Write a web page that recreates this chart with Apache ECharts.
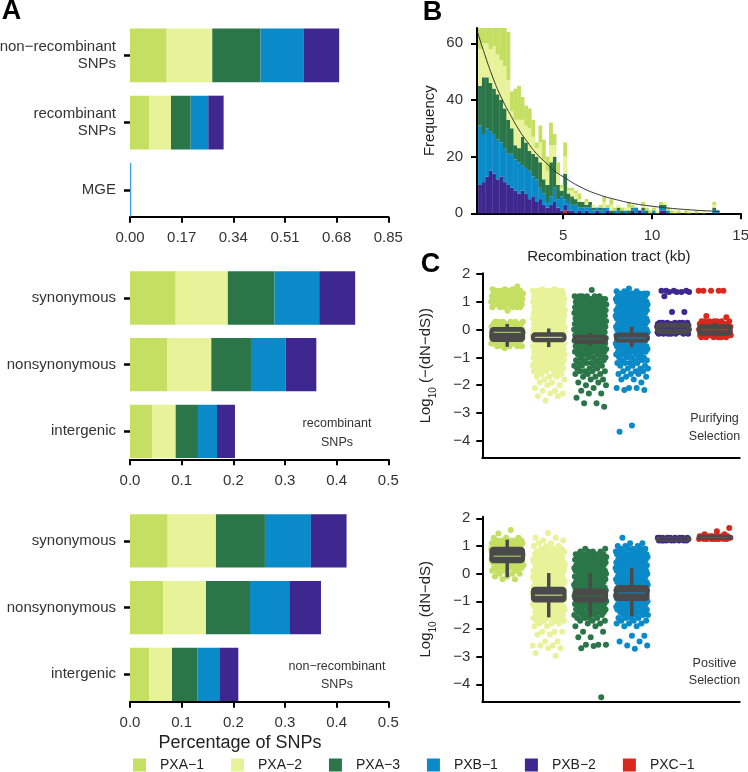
<!DOCTYPE html>
<html><head><meta charset="utf-8">
<script src="https://cdn.jsdelivr.net/npm/echarts@6/dist/echarts.min.js"></script>
<style>html,body{margin:0;padding:0;background:#fff}#c{width:748px;height:772px}</style>
</head><body><div id="c"></div>
<script>
const M = '\u2212';
const FONT = '"Liberation Sans", Arial, Helvetica, sans-serif';
const groups = ['PXA' + M + '1', 'PXA' + M + '2', 'PXA' + M + '3', 'PXB' + M + '1', 'PXB' + M + '2', 'PXC' + M + '1'];
const colors = ['#c4df62', '#e8f298', '#2b7649', '#0a8ac8', '#3e2890', '#d9281e'];

// ---- Panel A data (rows = PXA-1..PXB-2, columns = categories) ----
const snpClassCats = ['non' + M + 'recombinant\nSNPs', 'recombinant\nSNPs', 'MGE'];
const snpClassValues = [
  [0.1207, 0.0625, 0.0002],
  [0.1500, 0.0724, 0.0002],
  [0.1590, 0.0647, 0.0002],
  [0.1426, 0.0580, 0.0030],
  [0.1160, 0.0505, 0.0002]
];
const siteCats = ['synonymous', 'nonsynonymous', 'intergenic'];
const recombValues = [
  [0.0884, 0.0716, 0.0426],
  [0.1010, 0.0858, 0.0458],
  [0.0903, 0.0768, 0.0432],
  [0.0865, 0.0671, 0.0368],
  [0.0697, 0.0594, 0.0348]
];
const nonRecombValues = [
  [0.0729, 0.0645, 0.0374],
  [0.0935, 0.0826, 0.0439],
  [0.0948, 0.0852, 0.0490],
  [0.0890, 0.0774, 0.0426],
  [0.0690, 0.0600, 0.0368]
];

// ---- Panel B data: stacked histogram, bins of 0.2 kb from 0.2 kb ----
const histFirstEdge = 0.2, histBinWidth = 0.2;
const histPXA1 = [10,10,12,10,16,14,12,14,17,7, 11,12,8,7,7,6,2,6,7,5, 8,4,4,1,5,1,1,1,2, 0,1,0,0,0,1,2,1,2,1, 0,1,0,2,1,0,0,1,1,1, 1,0,1,0,1,1,0,1,0,1, 0,0,1,0,0,0,0,1,0];
const histPXA2 = [13,12,12,12,15,14,14,15,14,6, 9,10,6,6,8,6,3,7,7,5, 6,4,4,1,6,1,2,2,1, 0,1,0,1,0,0,2,0,2,0, 1,0,1,1,0,0,0,1,0,0, 0,1,0,1,0,0,1,0,0,0, 1,0,0,0,1,0,0,1,0];
const histPXA3 = [14,20,18,17,16,16,15,14,12,9, 5,5,10,9,7,8,8,9,5,6, 12,11,5,2,9,3,3,2,2, 2,1,2,1,0,1,0,0,1,0, 1,1,0,1,0,0,0,1,1,0, 0,0,1,1,0,0,0,0,0,0, 0,0,0,0,0,0,0,1,0];
const histPXB1 = [21,17,17,14,14,14,12,12,11,12, 11,11,9,9,10,7,8,4,4,2, 3,5,3,5,2,3,2,3,1, 2,1,2,1,1,1,2,1,0,1, 1,0,1,0,1,2,0,1,0,0, 1,0,1,1,1,0,0,0,0,0, 0,0,0,0,0,0,0,1,1];
const histPXB2 = [10,11,13,15,14,12,13,11,10,9, 8,7,8,7,5,6,4,5,3,2, 3,4,2,1,2,1,1,0,1, 0,1,0,0,1,0,0,1,0,0, 0,0,0,0,1,0,1,0,0,0, 0,0,1,1,0,0,0,0,0,0, 0,0,0,0,0,0,0,0,0];
const histPXC1 = [0,0,0,0,0,0,0,0,0,0, 0,0,0,0,0,0,0,0,0,0, 0,0,0,0,1,0,0,0,0, 0,0,0,0,0,0,0,0,0,0, 0,0,0,0,0,0,0,0,0,0, 0,0,0,0,0,0,0,0,0,0, 0,0,0,0,0,0,0,0,0];
const fitCurve = [[0.17,64],[0.5,57.5],[1,48.5],[1.5,41],[2,35],[2.5,29.5],[3,25],[3.5,21],[4,18],[4.5,15],[5,12.9],[6,9.2],[7,6.6],[8,4.8],[9,3.4],[10,2.5],[11,1.8],[12,1.3],[13,0.9],[13.8,0.7]];
const histYMax = 65.4;
const histYTicks = [0, 20, 40, 60];
const histXTicks = [5, 10, 15];

// ---- Panel C data: [log10 value, number of points at that value] ----
const purPXA1 = [[1.55,1],[1.45,3],[1.4,6],[1.3,9],[1.2,9],[1.1,9],[1.0,9],[0.9,9],[0.8,6],[0.68,1],[0.28,6],[0.2,9],[0.1,9],[0.0,9],[-0.1,9],[-0.2,9],[-0.3,9],[-0.4,9],[-0.5,9],[-0.6,5],[-0.67,1]];
const purPXA2 = [[1.45,2],[1.4,6],[1.3,9],[1.2,9],[1.1,9],[1.0,9],[0.9,9],[0.8,9],[0.7,9],[0.6,9],[0.5,9],[0.4,9],[0.3,9],[0.2,9],[0.1,9],[0.0,9],[-0.1,9],[-0.2,9],[-0.3,9],[-0.4,9],[-0.5,9],[-0.6,9],[-0.7,9],[-0.8,9],[-0.9,9],[-1.0,9],[-1.1,8],[-1.2,7],[-1.3,6],[-1.4,5],[-1.5,4],[-1.6,3],[-1.7,3],[-1.8,2],[-1.9,2],[-2.0,2],[-2.1,1],[-2.2,2],[-2.3,2],[-2.4,2],[-2.55,1]];
const purPXA3 = [[1.42,1],[1.2,6],[1.1,9],[1.0,9],[0.9,9],[0.8,9],[0.7,9],[0.6,9],[0.5,9],[0.4,9],[0.3,9],[0.2,9],[0.1,9],[0.0,9],[-0.1,9],[-0.2,9],[-0.3,9],[-0.4,9],[-0.5,9],[-0.6,9],[-0.7,8],[-0.8,7],[-0.9,6],[-1.0,5],[-1.1,4],[-1.2,4],[-1.3,4],[-1.4,3],[-1.5,4],[-1.6,3],[-1.7,2],[-1.8,2],[-1.9,2],[-2.0,2],[-2.1,1],[-2.2,1],[-2.3,2],[-2.45,1],[-2.65,2],[-2.78,1]];
const purPXB1 = [[1.48,1],[1.38,3],[1.3,7],[1.2,9],[1.1,9],[1.0,9],[0.9,9],[0.8,9],[0.7,9],[0.6,9],[0.5,9],[0.4,9],[0.3,9],[0.2,9],[0.1,9],[0.0,9],[-0.1,9],[-0.2,9],[-0.3,9],[-0.4,9],[-0.5,9],[-0.6,9],[-0.7,8],[-0.8,7],[-0.9,6],[-1.0,5],[-1.1,4],[-1.2,4],[-1.3,3],[-1.4,3],[-1.5,3],[-1.6,3],[-1.7,2],[-1.8,2],[-1.9,1],[-2.1,3],[-2.17,2],[-3.45,1],[-3.68,1]];
const purPXB2 = [[1.4,4],[1.35,4],[1.2,1],[0.63,2],[0.25,7],[0.2,9],[0.15,9],[0.1,9],[0.05,9],[0.0,9],[-0.05,9],[-0.1,9],[-0.15,7]];
const purPXC1 = [[1.4,5],[0.49,1],[0.44,1],[0.3,7],[0.2,9],[0.1,9],[0.0,9],[-0.1,9],[-0.2,9],[-0.28,6]];
const posPXA1 = [[1.58,1],[1.45,1],[1.3,3],[1.2,7],[1.1,9],[1.0,9],[0.9,9],[0.8,9],[0.7,9],[0.6,9],[0.5,9],[0.4,9],[0.3,8],[0.2,6],[0.1,4],[0.0,3],[-0.1,2],[-0.2,2]];
const posPXA2 = [[1.47,1],[1.3,2],[1.2,2],[1.1,2],[1.0,3],[0.9,4],[0.8,4],[0.7,5],[0.6,6],[0.5,8],[0.4,9],[0.3,9],[0.2,9],[0.1,9],[0.0,9],[-0.1,9],[-0.2,9],[-0.3,9],[-0.4,9],[-0.5,9],[-0.6,9],[-0.7,9],[-0.8,9],[-0.9,9],[-1.0,9],[-1.1,9],[-1.2,8],[-1.3,7],[-1.4,6],[-1.5,6],[-1.6,5],[-1.7,4],[-1.8,3],[-1.9,2],[-2.1,3],[-2.2,2],[-2.45,2],[-2.6,3],[-2.7,2],[-2.87,1],[-2.97,1]];
const posPXA3 = [[0.9,2],[0.8,4],[0.7,6],[0.6,8],[0.5,9],[0.4,9],[0.3,9],[0.2,9],[0.1,9],[0.0,9],[-0.1,9],[-0.2,9],[-0.3,9],[-0.4,9],[-0.5,9],[-0.6,9],[-0.7,9],[-0.8,9],[-0.9,9],[-1.0,9],[-1.1,8],[-1.2,7],[-1.3,6],[-1.4,6],[-1.5,5],[-1.6,4],[-1.7,3],[-1.8,2],[-1.9,2],[-2.1,2],[-2.3,2],[-2.57,3],[-2.62,1],[-2.7,1],[-4.47,1]];
const posPXB1 = [[1.3,1],[1.1,2],[1.0,3],[0.9,5],[0.8,7],[0.7,8],[0.6,9],[0.5,9],[0.4,9],[0.3,9],[0.2,9],[0.1,9],[0.0,9],[-0.1,9],[-0.2,9],[-0.3,9],[-0.4,9],[-0.5,9],[-0.6,9],[-0.7,9],[-0.8,9],[-0.9,9],[-1.0,9],[-1.1,9],[-1.2,8],[-1.3,7],[-1.4,6],[-1.5,5],[-1.6,4],[-1.7,3],[-1.8,3],[-1.9,2],[-2.25,2],[-2.45,2],[-2.6,2],[-2.72,1]];
const posPXB2 = [[1.3,9],[1.25,9],[1.2,9]];
const posPXC1 = [[1.65,1],[1.53,1],[1.42,2],[1.35,9],[1.3,9],[1.25,9]];
// box stats: [min, Q1, median, Q3, max]
const purBoxes = [[-0.62,-0.4,-0.1,0.05,0.2],[-0.63,-0.41,-0.28,-0.14,0.04],[-0.58,-0.47,-0.33,-0.23,-0.12],[-0.63,-0.42,-0.3,-0.15,0.1],[-0.14,-0.12,0.05,0.2,0.22],[-0.25,-0.18,0.0,0.15,0.25]];
const posBoxes = [[-0.13,0.42,0.63,0.93,1.23],[-1.58,-1.0,-0.78,-0.52,0.02],[-1.55,-1.0,-0.8,-0.58,0.02],[-1.54,-0.94,-0.7,-0.46,0.2],[1.18,1.2,1.25,1.3,1.32],[1.23,1.26,1.3,1.36,1.4]];
const cTicks = [-4, -3, -2, -1, 0, 1, 2];

// ---------------- build ----------------
const chart = echarts.init(document.getElementById('c'), null, {renderer: 'canvas', width: 748, height: 772});
const lineBlack = {onZero: false, lineStyle: {color: '#000', width: 2}};
const tickStyle = {length: 6, lineStyle: {color: '#000', width: 2}};
const labelStyle = {color: '#333', fontSize: 15, fontFamily: FONT};

const grids = [
  {left: 130, top: 15, width: 258.3, height: 201.7},
  {left: 130, top: 258, width: 258.3, height: 201.3},
  {left: 130, top: 500.8, width: 258.3, height: 200.9},
  {left: 477, top: 28, width: 263.7, height: 185.3},
  {left: 482.3, top: 273.3, width: 257.4, height: 184.7},
  {left: 482.3, top: 516.7, width: 257.4, height: 185}
].map(g => Object.assign(g, {containLabel: false, outerBoundsMode: 'none'}));

function aX(grid, max, interval, dec) {
  return {type: 'value', gridIndex: grid, min: 0, max: max, interval: interval,
    axisLine: lineBlack, axisTick: tickStyle, splitLine: {show: false},
    axisLabel: Object.assign({margin: 14, formatter: v => v.toFixed(dec)}, labelStyle)};
}
function aY(grid, cats, max) {
  return {type: 'value', gridIndex: grid, min: -0.6, max: max, inverse: true,
    axisLine: {show: false, onZero: false}, splitLine: {show: false},
    axisTick: {show: true, length: 6, lineStyle: {color: '#000', width: 2.5}, customValues: [0, 1, 2]},
    axisLabel: Object.assign({margin: 14, lineHeight: 17, customValues: [0, 1, 2], formatter: v => cats[Math.round(v)]}, labelStyle)};
}
const xAxes = [
  aX(0, 0.85, 0.17, 2), aX(1, 0.5, 0.1, 1), aX(2, 0.5, 0.1, 1),
  {type: 'value', gridIndex: 3, min: 0.14, max: 15, axisLine: lineBlack, splitLine: {show: false},
   axisTick: Object.assign({customValues: histXTicks}, tickStyle),
   axisLabel: Object.assign({margin: 15, customValues: histXTicks}, labelStyle),
   name: 'Recombination tract (kb)', nameLocation: 'middle', nameGap: 36,
   nameTextStyle: {fontSize: 15, color: '#222', fontFamily: FONT}},
  {type: 'value', gridIndex: 4, min: 0.4, max: 6.6, axisLine: lineBlack, axisTick: {show: false}, axisLabel: {show: false}, splitLine: {show: false}},
  {type: 'value', gridIndex: 5, min: 0.4, max: 6.6, axisLine: lineBlack, axisTick: {show: false}, axisLabel: {show: false}, splitLine: {show: false}}
];
const richName = {
  a: {fontSize: 15, color: '#222', fontFamily: FONT, padding: [0, 0, 5, 0], verticalAlign: 'bottom'},
  s: {fontSize: 10, color: '#222', fontFamily: FONT, verticalAlign: 'bottom'}
};
function cY(grid, min, max, nm) {
  return {type: 'value', gridIndex: grid, min: min, max: max, axisLine: lineBlack, splitLine: {show: false},
    axisTick: Object.assign({customValues: cTicks}, tickStyle),
    axisLabel: Object.assign({margin: 12, customValues: cTicks, formatter: v => (v < 0 ? M + Math.abs(v) : String(v))}, labelStyle),
    name: nm, nameLocation: 'middle', nameGap: 44, nameRotate: 90,
    nameTextStyle: {fontSize: 15, color: '#222', fontFamily: FONT, rich: richName}};
}
const yAxes = [
  aY(0, snpClassCats, 2.4), aY(1, siteCats, 2.42), aY(2, siteCats, 2.41),
  {type: 'value', gridIndex: 3, min: 0, max: histYMax, axisLine: lineBlack, splitLine: {show: false},
   axisTick: Object.assign({customValues: histYTicks}, tickStyle),
   axisLabel: Object.assign({margin: 14, customValues: histYTicks}, labelStyle),
   name: 'Frequency', nameLocation: 'middle', nameGap: 40, nameTextStyle: {fontSize: 15, color: '#222', fontFamily: FONT}},
  cY(4, -4.62, 2.025, '{a|Log}{s|10}{a| (' + M + '(dN' + M + 'dS))}'),
  cY(5, -4.63, 2.058, '{a|Log}{s|10}{a| (dN' + M + 'dS)}')
];

const series = [];
// Panel A stacked bars
function barRender(params, api) {
  const p0 = api.coord([api.value(0), api.value(2) - 0.4]);
  const p1 = api.coord([api.value(1), api.value(2) + 0.4]);
  return {type: 'rect', shape: {x: Math.min(p0[0], p1[0]), y: Math.min(p0[1], p1[1]), width: Math.abs(p1[0] - p0[0]), height: Math.abs(p1[1] - p0[1])},
    style: {fill: api.visual('color')}};
}
[[0, snpClassValues], [1, recombValues], [2, nonRecombValues]].forEach(([g, vals]) => {
  const acc = [0, 0, 0];
  vals.forEach((row, i) => {
    const data = row.map((v, k) => { const d = [acc[k], acc[k] + v, k]; acc[k] += v; return d; });
    series.push({type: 'custom', name: groups[i], xAxisIndex: g, yAxisIndex: g, renderItem: barRender,
      encode: {x: [0, 1], y: 2}, itemStyle: {color: colors[i]}, data: data, silent: true});
  });
});

// Panel B histogram (stack bottom -> top: PXC-1, PXB-2, PXB-1, PXA-3, PXA-2, PXA-1)
const histStack = [[5, histPXC1], [4, histPXB2], [3, histPXB1], [2, histPXA3], [1, histPXA2], [0, histPXA1]];
const histAcc = histPXA1.map(() => 0);
function histRender(params, api) {
  const y1 = Math.min(api.value(3), histYMax);
  const y0 = api.value(2);
  if (y1 <= y0) return null;
  const p0 = api.coord([api.value(0), y0]);
  const p1 = api.coord([api.value(1), y1]);
  return {type: 'rect', shape: {x: p0[0], y: p1[1], width: p1[0] - p0[0] + 0.3, height: p0[1] - p1[1]}, style: {fill: api.visual('color')}};
}
histStack.forEach(([gi, counts]) => {
  const data = counts.map((c, b) => {
    const x0 = histFirstEdge + b * histBinWidth;
    const d = [x0, x0 + histBinWidth, histAcc[b], histAcc[b] + c];
    histAcc[b] += c; return d;
  });
  series.push({type: 'custom', name: groups[gi], xAxisIndex: 3, yAxisIndex: 3, renderItem: histRender,
    encode: {x: [0, 1], y: [2, 3]}, itemStyle: {color: colors[gi]}, data: data, silent: true});
});
series.push({type: 'line', xAxisIndex: 3, yAxisIndex: 3, data: fitCurve, smooth: true, symbol: 'none',
  lineStyle: {color: '#333', width: 1}, silent: true, z: 5});

// Panel C jitter + boxes
function jitter(levels, center, seed) {
  const pts = []; let k = seed;
  levels.forEach(([y, n]) => {
    for (let j = 0; j < n; j++) { k++; const f = (k * 0.6180339887) % 1; pts.push([center + (f * 2 - 1) * 0.39, y]); }
  });
  return pts;
}
const purSets = [purPXA1, purPXA2, purPXA3, purPXB1, purPXB2, purPXC1];
const posSets = [posPXA1, posPXA2, posPXA3, posPXB1, posPXB2, posPXC1];
function boxRender(params, api) {
  const c = api.value(0), gi = api.value(6);
  const w = 0.4;
  const pMin = api.coord([c, api.value(1)]), pQ1 = api.coord([c, api.value(2)]), pMed = api.coord([c, api.value(3)]);
  const pQ3 = api.coord([c, api.value(4)]), pMax = api.coord([c, api.value(5)]);
  const l = api.coord([c - w, 0])[0], r = api.coord([c + w, 0])[0];
  const stroke = '#4a4a4a';
  return {type: 'group', children: [
    {type: 'line', shape: {x1: pMin[0], y1: pMin[1], x2: pQ1[0], y2: pQ1[1]}, style: {stroke: stroke, lineWidth: 3.5}},
    {type: 'line', shape: {x1: pQ3[0], y1: pQ3[1], x2: pMax[0], y2: pMax[1]}, style: {stroke: stroke, lineWidth: 3.5}},
    {type: 'rect', shape: {x: l, y: pQ3[1], width: r - l, height: pQ1[1] - pQ3[1], r: 3}, style: {fill: stroke, stroke: stroke, lineWidth: 2.5}},
    {type: 'line', shape: {x1: l + 3, y1: pMed[1], x2: r - 3, y2: pMed[1]}, style: {stroke: colors[gi], lineWidth: 1.2, opacity: 0.8}}
  ]};
}
[[4, purSets, purBoxes], [5, posSets, posBoxes]].forEach(([g, sets, boxes]) => {
  sets.forEach((lv, i) => {
    series.push({type: 'scatter', name: groups[i], xAxisIndex: g, yAxisIndex: g, data: jitter(lv, i + 1, i * 37 + g * 11),
      symbolSize: 6, itemStyle: {color: colors[i], opacity: 1}, silent: true, z: 2});
  });
  series.push({type: 'custom', xAxisIndex: g, yAxisIndex: g, renderItem: boxRender, encode: {x: 0, y: [1, 5]},
    data: boxes.map((b, i) => [i + 1].concat(b).concat([i])), silent: true, z: 4});
});

const txt = (x, y, t, size, extra) => Object.assign({type: 'text', x: x, y: y,
  style: Object.assign({text: t, fontSize: size, fontFamily: FONT, fill: '#333', textAlign: 'center', textVerticalAlign: 'middle'}, extra || {})});

chart.setOption({
  animation: false,
  backgroundColor: '#fff',
  textStyle: {fontFamily: FONT},
  grid: grids, xAxis: xAxes, yAxis: yAxes, series: series,
  legend: {data: groups, left: 133, top: 758, padding: 0, itemWidth: 13, itemHeight: 13, itemGap: 27, icon: 'rect', selectedMode: false,
    textStyle: {fontSize: 14, color: '#222', fontFamily: FONT, width: 45, padding: [0, 0, 0, 9]}},
  graphic: [
    txt(11.5, 11.7, 'A', 27, {fontWeight: 'bold', fill: '#000'}),
    txt(432.5, 12.5, 'B', 27, {fontWeight: 'bold', fill: '#000'}),
    txt(430.5, 265, 'C', 27, {fontWeight: 'bold', fill: '#000'}),
    txt(337, 424, 'recombinant', 12.5),
    txt(337, 442.7, 'SNPs', 12.5),
    txt(337, 666.7, 'non' + M + 'recombinant', 12.5),
    txt(337, 685, 'SNPs', 12.5),
    txt(714.5, 418.3, 'Purifying', 12.5),
    txt(714.5, 436.7, 'Selection', 12.5),
    txt(714.5, 663.3, 'Positive', 12.5),
    txt(714.5, 681, 'Selection', 12.5),
    txt(240, 743.3, 'Percentage of SNPs', 18, {fill: '#222'})
  ]
});
</script></body></html>
